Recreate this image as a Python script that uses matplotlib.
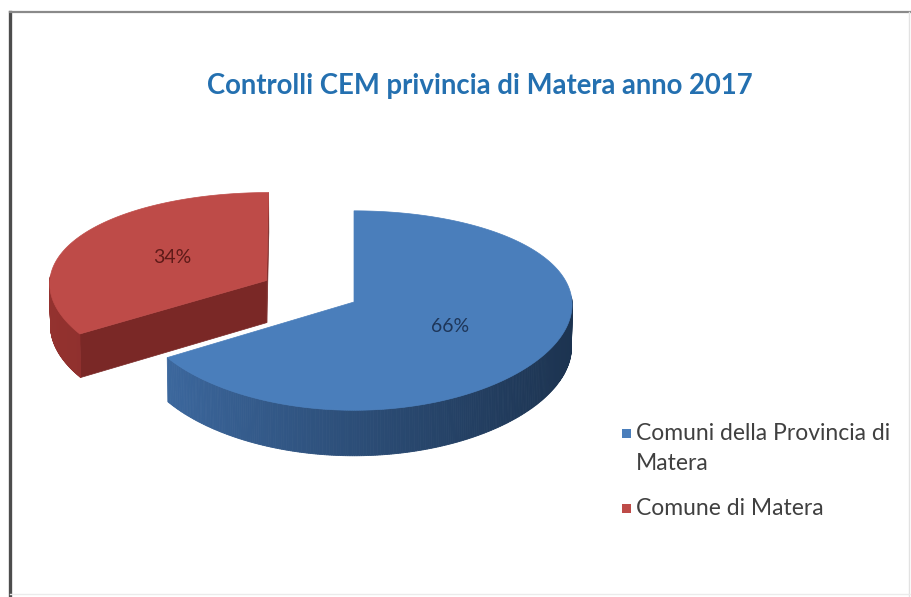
import numpy as np
import matplotlib
matplotlib.use("Agg")
import matplotlib.pyplot as plt
from matplotlib.patches import Polygon, Rectangle
from matplotlib.lines import Line2D
from matplotlib.colors import to_rgb

plt.rcParams['font.family'] = ['Lato', 'DejaVu Sans']

# Data
title = "Controlli CEM privincia di Matera anno 2017"
categories = ["Comuni della Provincia di\nMatera", "Comune di Matera"]
shares = [66, 34]
explode = [0.0, 0.46]
top_colors = ["#4A7EBB", "#BE4B48"]
wall_light = ["#3F6DA6", "#94322F"]
wall_dark = ["#1C3350", "#6E2220"]
cut_colors = ["#2B4B74", "#7A2826"]
label_colors = ["#1E3659", "#5E1A18"]

# 3-D pie geometry: screen centre, scale, tilt, camera distance, thickness
CX, CY = 354, 302
SCALE = 218
ELEV = np.deg2rad(27)
DIST = 10.4
THICK = 0.222
HPERSP = 0.3   # share of perspective applied horizontally

fig = plt.figure(figsize=(9.12, 5.97), dpi=100)
ax = fig.add_axes([0, 0, 1, 1])
ax.set_xlim(0, 912)
ax.set_ylim(597, 0)
ax.axis("off")

se, ce = np.sin(ELEV), np.cos(ELEV)


def proj(p):
    X, Y, Z = p
    v = Y * se + Z * ce
    w = Y * ce - Z * se
    k = DIST / (DIST + w)
    kx = 1 + HPERSP * (k - 1)
    return (CX + SCALE * X * kx, CY - SCALE * v * k)


def rim(c, th, z):
    return np.array([c[0] + np.cos(th), c[1] + np.sin(th), z])


def mix(c1, c2, t):
    c1, c2 = np.array(to_rgb(c1)), np.array(to_rgb(c2))
    return tuple(c1 + (c2 - c1) * t)


def signed_area(pts):
    x = np.array([p[0] for p in pts])
    y = np.array([p[1] for p in pts])
    return 0.5 * np.sum(x * np.roll(y, -1) - np.roll(x, -1) * y)


# Slices start at 12 o'clock and run clockwise
total = float(sum(shares))
start = np.pi / 2
slices = []
for i, v in enumerate(shares):
    sweep = 2 * np.pi * v / total
    th1 = start
    th0 = start - sweep
    mid = (th0 + th1) / 2
    c = np.array([explode[i] * np.cos(mid), explode[i] * np.sin(mid), 0.0])
    slices.append((i, th0, th1, mid, c))
    start = th0

# Back slices first
order = sorted(slices, key=lambda s: -s[4][1])
for i, th0, th1, mid, c in order:
    # radial cut faces turned toward the viewer
    for th, sgn in ((th0, -1), (th1, 1)):
        p0 = np.array([c[0], c[1], 0.0])
        pts = [proj(p) for p in (p0, rim(c, th, 0), rim(c, th, -THICK),
                                 p0 + [0, 0, -THICK])]
        if -sgn * signed_area(pts) > 40:
            ax.add_patch(Polygon(pts, closed=True, facecolor=cut_colors[i],
                                 edgecolor=cut_colors[i], lw=0.5, zorder=2))
    # outer wall, shaded strip by strip
    ths = np.linspace(th0, th1, 400)
    strips = []
    for t0, t1 in zip(ths[:-1], ths[1:]):
        tm = (t0 + t1) / 2
        if np.sin(tm) > 0.05:
            continue
        k = (np.cos(tm) + 1) / 2
        col = mix(wall_light[i], wall_dark[i], k ** 0.9)
        pts3 = [rim(c, t0, 0), rim(c, t1, 0), rim(c, t1, -THICK), rim(c, t0, -THICK)]
        strips.append((-np.sin(tm), pts3, col))
    for _, pts3, col in sorted(strips, key=lambda s: s[0]):
        ax.add_patch(Polygon([proj(p) for p in pts3], closed=True,
                             facecolor=col, edgecolor=col, lw=0.6, zorder=2))
    # top face
    pts3 = [np.array([c[0], c[1], 0.0])] + [rim(c, t, 0) for t in np.linspace(th0, th1, 300)]
    ax.add_patch(Polygon([proj(p) for p in pts3], closed=True,
                         facecolor=top_colors[i], edgecolor=top_colors[i],
                         lw=0.5, zorder=3))
    # percentage label
    lx, ly = proj(np.array([c[0] + 0.5 * np.cos(mid), c[1] + 0.5 * np.sin(mid), 0]))
    ax.text(lx, ly, f"{shares[i]}%", ha="center", va="center",
            fontsize=14, color=label_colors[i], zorder=4)

# Title
ax.text(480, 86, title, ha="center", va="center", fontsize=19.8,
        fontweight="bold", color="#2470B0")

# Legend: square key beside the first line of each entry
LEG_X, LEG_Y = 622, 440
LINE_H, ENTRY_GAP, KEY = 30, 15, 9
y = LEG_Y
for i, name in enumerate(categories):
    ax.add_patch(Rectangle((LEG_X, y - 7 - KEY / 2), KEY, KEY,
                           facecolor=top_colors[i], edgecolor="none"))
    for line in name.split("\n"):
        ax.text(LEG_X + KEY + 5, y, line, ha="left", va="baseline",
                fontsize=16.5, color="#404040")
        y += LINE_H
    y += ENTRY_GAP

# Chart frame
ax.add_line(Line2D([10, 10], [12, 597], color="#4D4D4D", lw=2.4))
ax.add_line(Line2D([10, 912], [12, 12], color="#8A8A8A", lw=1.6))
ax.add_line(Line2D([909, 909], [12, 597], color="#E2E2E2", lw=1.0))
ax.add_line(Line2D([10, 912], [594, 594], color="#EBEBEB", lw=1.0))

fig.savefig("out.png", dpi=100)
